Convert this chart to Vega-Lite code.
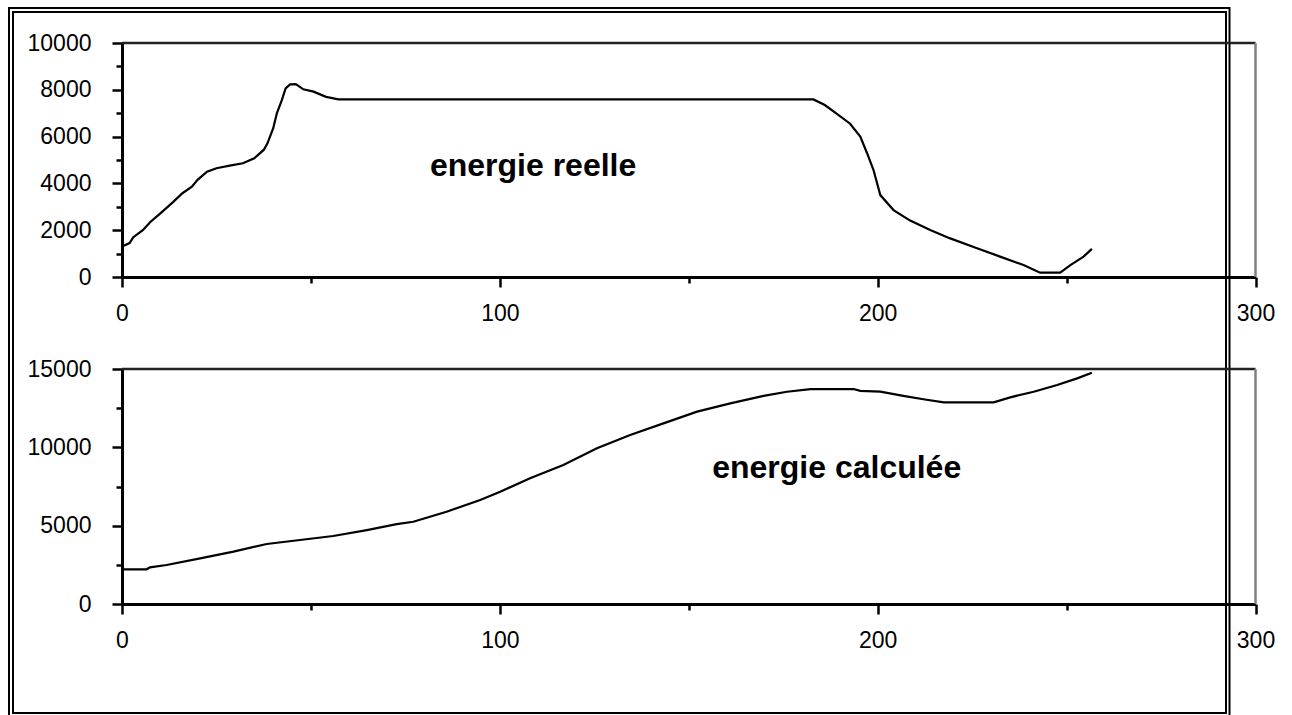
{
  "$schema": "https://vega.github.io/schema/vega-lite/v6.json",
  "width": 1213,
  "height": 701,
  "autosize": "none",
  "padding": {"left": 13, "top": 12, "right": 66, "bottom": 2},
  "background": "white",
  "config": {
    "view": {"stroke": "black", "strokeWidth": 2},
    "axis": {
      "domainColor": "black",
      "domainWidth": 3,
      "tickColor": "black",
      "tickWidth": 2.5,
      "grid": false,
      "labelFont": "Liberation Sans",
      "labelFontSize": 23,
      "labelColor": "black",
      "labelOverlap": false,
      "labelFlush": false,
      "title": null
    }
  },
  "resolve": {
    "scale": {"x": "independent", "y": "independent"},
    "axis": {"x": "independent", "y": "independent"}
  },
  "layer": [
    {
      "data": {"values": [{"frame": "outer"}]},
      "mark": {"type": "rect", "filled": false, "stroke": "black", "strokeWidth": 2},
      "encoding": {
        "x": {"datum": 0, "type": "quantitative", "scale": {"domain": [0, 1], "range": [-4, 1216.5], "nice": false, "zero": false}, "axis": null},
        "x2": {"datum": 1},
        "y": {"datum": 0, "type": "quantitative", "scale": {"domain": [0, 1], "range": [706, -4], "nice": false, "zero": false}, "axis": null},
        "y2": {"datum": 1}
      }
    },
    {
      "data": {"values": [{"edge": "top"}]},
      "mark": {"type": "rule", "color": "#222222", "strokeWidth": 2.5},
      "encoding": {
        "x": {"datum": 0, "type": "quantitative",
          "scale": {"domain": [0, 300], "range": [109, 1242.5], "nice": false, "zero": false},
          "axis": {"orient": "bottom", "offset": -436, "values": [50, 150, 250], "labels": false, "domain": false, "tickSize": 6}},
        "x2": {"datum": 300},
        "y": {"datum": 10000, "type": "quantitative",
          "scale": {"domain": [0, 10000], "range": [265, 31], "nice": false, "zero": false},
          "axis": {"orient": "left", "offset": -109, "values": [1000, 3000, 5000, 7000, 9000], "labels": false, "domain": false, "tickSize": 6}}
      }
    },
    {
      "data": {"values": [{"edge": "right"}]},
      "mark": {"type": "rule", "color": "#808080", "strokeWidth": 2.5},
      "encoding": {
        "x": {"datum": 300, "type": "quantitative",
          "scale": {"domain": [0, 300], "range": [109, 1242.5], "nice": false, "zero": false}, "axis": null},
        "y": {"datum": 0, "type": "quantitative",
          "scale": {"domain": [0, 10000], "range": [265, 31], "nice": false, "zero": false}, "axis": null},
        "y2": {"datum": 10000}
      }
    },
    {
      "data": {"values": [
        {"t": 0, "e": 1300}, {"t": 2, "e": 1450}, {"t": 3, "e": 1700}, {"t": 5.5, "e": 2000},
        {"t": 7.5, "e": 2350}, {"t": 10, "e": 2700}, {"t": 13.5, "e": 3200}, {"t": 16, "e": 3580},
        {"t": 18.5, "e": 3860}, {"t": 20, "e": 4150}, {"t": 22.5, "e": 4500}, {"t": 25, "e": 4650},
        {"t": 28.5, "e": 4760}, {"t": 32, "e": 4860}, {"t": 35, "e": 5070}, {"t": 37.5, "e": 5430},
        {"t": 38.5, "e": 5710}, {"t": 40, "e": 6350}, {"t": 41, "e": 7000}, {"t": 42.3, "e": 7560},
        {"t": 43.3, "e": 8060}, {"t": 44.5, "e": 8230}, {"t": 46, "e": 8240}, {"t": 48, "e": 8020},
        {"t": 50.7, "e": 7920}, {"t": 54, "e": 7700}, {"t": 57.3, "e": 7590}, {"t": 183, "e": 7590},
        {"t": 186, "e": 7350}, {"t": 188.5, "e": 7060}, {"t": 192.7, "e": 6550}, {"t": 195.4, "e": 6000},
        {"t": 197.2, "e": 5290}, {"t": 198.9, "e": 4570}, {"t": 200.7, "e": 3500}, {"t": 204.2, "e": 2860},
        {"t": 208.6, "e": 2410}, {"t": 213.9, "e": 2010}, {"t": 219.2, "e": 1650}, {"t": 226.3, "e": 1230},
        {"t": 232.4, "e": 870}, {"t": 238.6, "e": 510}, {"t": 243, "e": 185}, {"t": 248.3, "e": 185},
        {"t": 251, "e": 510}, {"t": 254.5, "e": 870}, {"t": 256.7, "e": 1200}
      ]},
      "mark": {"type": "line", "color": "black", "strokeWidth": 2.2},
      "encoding": {
        "x": {"field": "t", "type": "quantitative",
          "scale": {"domain": [0, 300], "range": [109, 1242.5], "nice": false, "zero": false},
          "axis": {"orient": "bottom", "offset": -436, "values": [0, 100, 200, 300], "format": "d",
            "tickSize": 10, "labelPadding": 15}},
        "y": {"field": "e", "type": "quantitative",
          "scale": {"domain": [0, 10000], "range": [265, 31], "nice": false, "zero": false},
          "axis": {"orient": "left", "offset": -109, "values": [0, 2000, 4000, 6000, 8000, 10000], "format": "d",
            "tickSize": 10, "labelPadding": 21}}
      }
    },
    {
      "data": {"values": [{"label": "energie reelle"}]},
      "mark": {"type": "text", "font": "Liberation Sans", "fontWeight": "bold", "fontSize": 32, "align": "left", "baseline": "alphabetic", "color": "black"},
      "encoding": {
        "x": {"datum": 81.5, "type": "quantitative",
          "scale": {"domain": [0, 300], "range": [109, 1242.5], "nice": false, "zero": false}, "axis": null},
        "y": {"datum": 4300, "type": "quantitative",
          "scale": {"domain": [0, 10000], "range": [265, 31], "nice": false, "zero": false}, "axis": null},
        "text": {"field": "label"}
      }
    },
    {
      "data": {"values": [{"edge": "top"}]},
      "mark": {"type": "rule", "color": "#222222", "strokeWidth": 2.5},
      "encoding": {
        "x": {"datum": 0, "type": "quantitative",
          "scale": {"domain": [0, 300], "range": [109, 1242.5], "nice": false, "zero": false},
          "axis": {"orient": "bottom", "offset": -109, "values": [50, 150, 250], "labels": false, "domain": false, "tickSize": 6}},
        "x2": {"datum": 300},
        "y": {"datum": 15000, "type": "quantitative",
          "scale": {"domain": [0, 15000], "range": [592, 357], "nice": false, "zero": false},
          "axis": {"orient": "left", "offset": -109, "values": [2500, 7500, 12500], "labels": false, "domain": false, "tickSize": 6}}
      }
    },
    {
      "data": {"values": [{"edge": "right"}]},
      "mark": {"type": "rule", "color": "#808080", "strokeWidth": 2.5},
      "encoding": {
        "x": {"datum": 300, "type": "quantitative",
          "scale": {"domain": [0, 300], "range": [109, 1242.5], "nice": false, "zero": false}, "axis": null},
        "y": {"datum": 0, "type": "quantitative",
          "scale": {"domain": [0, 15000], "range": [592, 357], "nice": false, "zero": false}, "axis": null},
        "y2": {"datum": 15000}
      }
    },
    {
      "data": {"values": [
        {"t": 0, "e": 2215}, {"t": 6.5, "e": 2215}, {"t": 7.4, "e": 2340}, {"t": 11.8, "e": 2490},
        {"t": 20.7, "e": 2915}, {"t": 29.5, "e": 3340}, {"t": 38.3, "e": 3830}, {"t": 47.1, "e": 4085},
        {"t": 55.9, "e": 4340}, {"t": 64.8, "e": 4720}, {"t": 72.7, "e": 5100}, {"t": 77.1, "e": 5250},
        {"t": 85.9, "e": 5890}, {"t": 94.8, "e": 6640}, {"t": 100.1, "e": 7170}, {"t": 108, "e": 8020},
        {"t": 116.8, "e": 8870}, {"t": 125.7, "e": 9940}, {"t": 134.5, "e": 10790}, {"t": 143.3, "e": 11530},
        {"t": 152.2, "e": 12280}, {"t": 161, "e": 12810}, {"t": 169.8, "e": 13280}, {"t": 176, "e": 13550},
        {"t": 182.2, "e": 13720}, {"t": 193.6, "e": 13720}, {"t": 195.4, "e": 13600}, {"t": 200.7, "e": 13550},
        {"t": 206.8, "e": 13280}, {"t": 212.1, "e": 13070}, {"t": 217.5, "e": 12870}, {"t": 230.7, "e": 12870},
        {"t": 235.1, "e": 13190}, {"t": 241.3, "e": 13550}, {"t": 247.5, "e": 13980}, {"t": 252.8, "e": 14400},
        {"t": 256.7, "e": 14760}
      ]},
      "mark": {"type": "line", "color": "black", "strokeWidth": 2.2},
      "encoding": {
        "x": {"field": "t", "type": "quantitative",
          "scale": {"domain": [0, 300], "range": [109, 1242.5], "nice": false, "zero": false},
          "axis": {"orient": "bottom", "offset": -109, "values": [0, 100, 200, 300], "format": "d",
            "tickSize": 10, "labelPadding": 15}},
        "y": {"field": "e", "type": "quantitative",
          "scale": {"domain": [0, 15000], "range": [592, 357], "nice": false, "zero": false},
          "axis": {"orient": "left", "offset": -109, "values": [0, 5000, 10000, 15000], "format": "d",
            "tickSize": 10, "labelPadding": 21}}
      }
    },
    {
      "data": {"values": [{"label": "energie calculée"}]},
      "mark": {"type": "text", "font": "Liberation Sans", "fontWeight": "bold", "fontSize": 32, "align": "left", "baseline": "alphabetic", "color": "black"},
      "encoding": {
        "x": {"datum": 156.2, "type": "quantitative",
          "scale": {"domain": [0, 300], "range": [109, 1242.5], "nice": false, "zero": false}, "axis": null},
        "y": {"datum": 8040, "type": "quantitative",
          "scale": {"domain": [0, 15000], "range": [592, 357], "nice": false, "zero": false}, "axis": null},
        "text": {"field": "label"}
      }
    }
  ]
}
